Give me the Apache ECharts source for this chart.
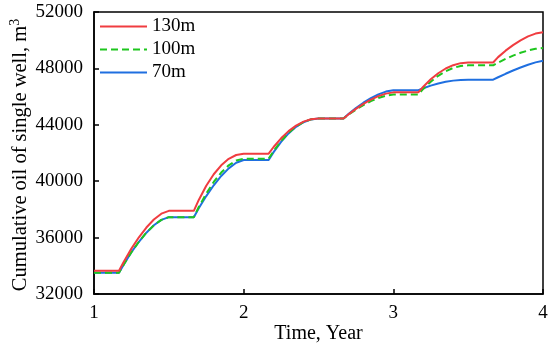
<!DOCTYPE html>
<html>
<head>
<meta charset="utf-8">
<script src="https://cdn.jsdelivr.net/npm/echarts@6/dist/echarts.min.js"></script>
<style>html,body{margin:0;padding:0;background:#fff}#c{width:550px;height:346px}</style>
</head>
<body>
<div id="c"></div>
<script>
var years = [1, 1.167, 1.2, 1.25, 1.3, 1.35, 1.4, 1.45, 1.5,
  1.667, 1.7, 1.75, 1.8, 1.85, 1.9, 1.95, 2.0,
  2.167, 2.2, 2.25, 2.3, 2.35, 2.4, 2.45, 2.5,
  2.667, 2.7, 2.75, 2.8, 2.85, 2.9, 2.95, 3.0,
  3.167, 3.2, 3.25, 3.3, 3.35, 3.4, 3.45, 3.5,
  3.667, 3.7, 3.75, 3.8, 3.85, 3.9, 3.95, 4.0];
var oil130 = [33650, 33650, 34309, 35218, 36022, 36714, 37280, 37696, 37900,
  37900, 38670, 39672, 40492, 41130, 41586, 41859, 41950,
  41950, 42425, 43044, 43550, 43944, 44225, 44394, 44450,
  44450, 44737, 45133, 45482, 45784, 46030, 46211, 46300,
  46300, 46703, 47228, 47657, 47991, 48229, 48372, 48420,
  48420, 48800, 49260, 49650, 49990, 50270, 50470, 50570];
var oil100 = [33500, 33500, 34112, 34958, 35704, 36348, 36873, 37260, 37450,
  37450, 38168, 39127, 39944, 40612, 41127, 41463, 41600,
  41600, 42142, 42847, 43424, 43873, 44194, 44386, 44450,
  44450, 44714, 45077, 45399, 45676, 45902, 46068, 46150,
  46150, 46543, 47056, 47475, 47801, 48034, 48173, 48220,
  48220, 48411, 48674, 48906, 49107, 49270, 49391, 49450];
var oil70 = [33500, 33500, 34112, 34958, 35704, 36348, 36873, 37260, 37450,
  37450, 38078, 38944, 39710, 40370, 40909, 41306, 41500,
  41500, 42061, 42791, 43388, 43853, 44185, 44384, 44450,
  44450, 44760, 45188, 45566, 45892, 46158, 46354, 46450,
  46450, 46593, 46778, 46930, 47048, 47133, 47183, 47200,
  47200, 47372, 47618, 47850, 48066, 48260, 48426, 48540];
var seriesNames = ['130m', '100m', '70m'];
var xTicks = [1, 2, 3, 4];
var yTicks = [32000, 36000, 40000, 44000, 48000, 52000];
var yTitle = 'Cumulative oil of single well, m{sup|3}';
var xTitle = 'Time, Year';

function pairs(vals) { return years.map(function (t, i) { return [t, vals[i]]; }); }

var font = 'Liberation Serif';
var fs = 19;
var chart = echarts.init(document.getElementById('c'));
chart.setOption({
  animation: false,
  backgroundColor: '#fff',
  textStyle: { fontFamily: font },
  grid: { left: 94, right: 7, top: 12, bottom: 52, containLabel: false, outerBoundsMode: 'none',
    show: true, borderColor: '#000', borderWidth: 1.5, backgroundColor: 'transparent' },
  graphic: [{
    type: 'text', x: 21, y: 155, rotation: Math.PI / 2, silent: true,
    style: {
      text: yTitle, fontFamily: font, fontSize: 20.5, fill: '#000',
      align: 'center', verticalAlign: 'middle', textAlign: 'center', textVerticalAlign: 'middle',
      rich: { sup: { fontFamily: font, fontSize: 14, fill: '#000', color: '#000', verticalAlign: 'top', lineHeight: 26 } }
    }
  }],
  legend: {
    orient: 'vertical', left: 94, top: 12, itemWidth: 47, itemHeight: 14, itemGap: 4,
    data: seriesNames,
    itemStyle: { opacity: 0 },
    textStyle: { fontFamily: font, fontSize: fs, color: '#000' }
  },
  xAxis: {
    type: 'value', min: xTicks[0], max: xTicks[xTicks.length - 1], interval: 1,
    name: xTitle, nameLocation: 'middle', nameGap: 30, nameMoveOverlap: false,
    nameTextStyle: { fontFamily: font, fontSize: 20, color: '#000' },
    axisLine: { show: true, lineStyle: { color: '#000', width: 1.5 } },
    axisTick: { show: true, inside: true, length: 5, lineStyle: { color: '#000', width: 1.5 } },
    axisLabel: { fontFamily: font, fontSize: fs, color: '#000', margin: 10 },
    splitLine: { show: false }
  },
  yAxis: {
    type: 'value', min: yTicks[0], max: yTicks[yTicks.length - 1], interval: 4000,
    axisLine: { show: true, lineStyle: { color: '#000', width: 1.5 } },
    axisTick: { show: true, inside: true, length: 5, lineStyle: { color: '#000', width: 1.5 } },
    axisLabel: { fontFamily: font, fontSize: fs, color: '#000', margin: 11, formatter: function (v) { return String(v); } },
    splitLine: { show: false }
  },
  series: [
    { name: '70m', type: 'line', data: pairs(oil70), symbol: 'none', z: 2,
      lineStyle: { color: '#1f6fe0', width: 2 }, itemStyle: { color: '#1f6fe0' } },
    { name: '100m', type: 'line', data: pairs(oil100), symbol: 'none', z: 3,
      lineStyle: { color: '#1ec61e', width: 2, type: [7, 4] }, itemStyle: { color: '#1ec61e' } },
    { name: '130m', type: 'line', data: pairs(oil130), symbol: 'none', z: 4,
      lineStyle: { color: '#f03c40', width: 2 }, itemStyle: { color: '#f03c40' } }
  ]
});
</script>
</body>
</html>
